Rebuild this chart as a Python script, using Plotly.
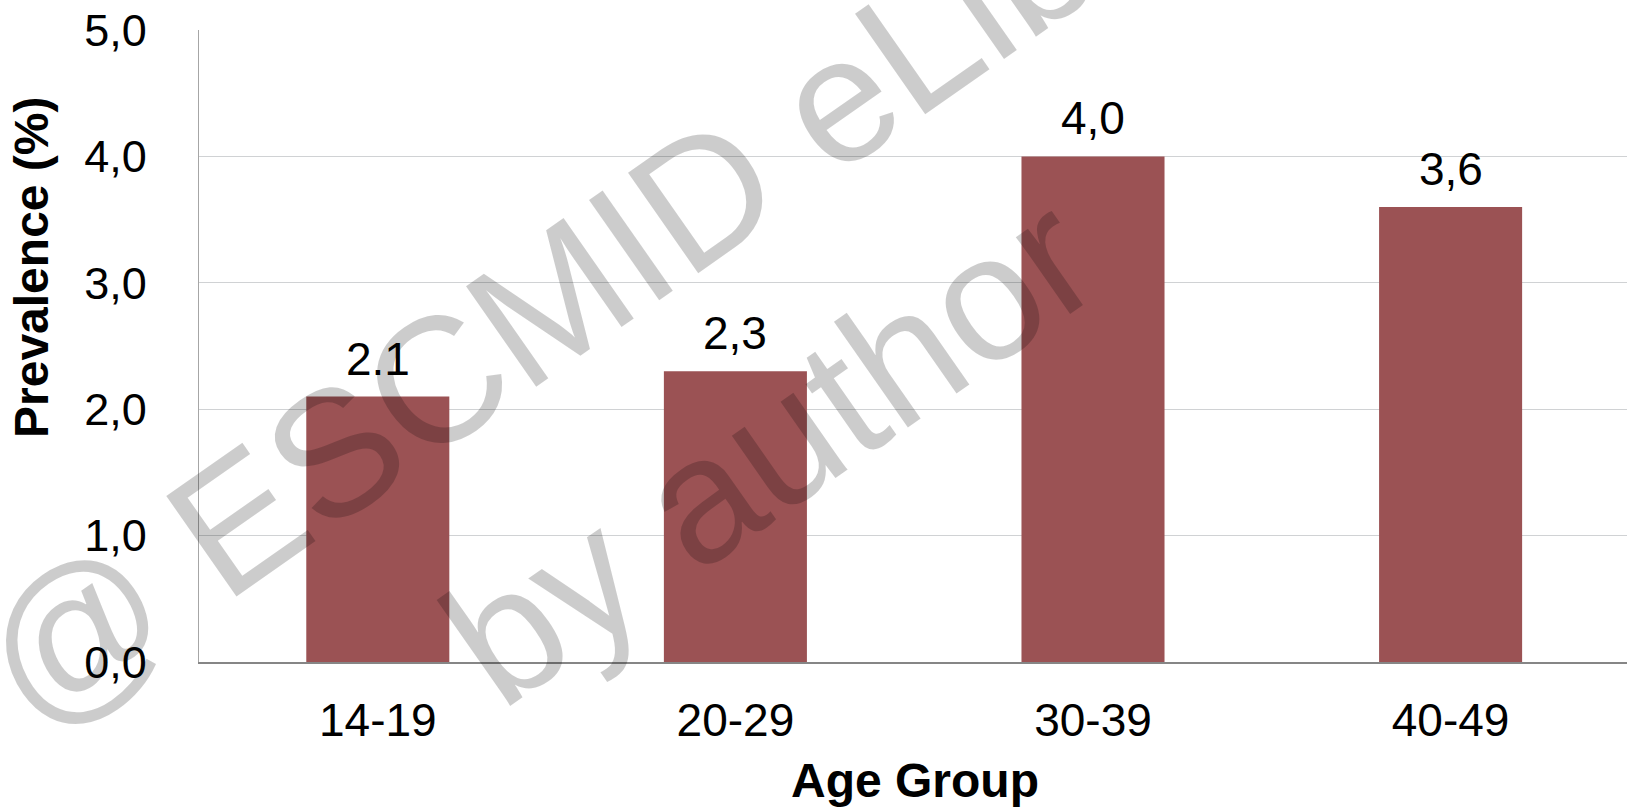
import plotly.graph_objects as go

# Prevalence by age group
age_groups = ["14-19", "20-29", "30-39", "40-49"]
prevalence = [2.1, 2.3, 4.0, 3.6]
value_labels = ["2.1", "2,3", "4,0", "3,6"]
y_ticks = [0, 1, 2, 3, 4, 5]
y_tick_text = ["0,0", "1,0", "2,0", "3,0", "4,0", "5,0"]

FONT = "Arial, Liberation Sans, sans-serif"
BAR_COLOR = "#9b5254"

W, H = 1627, 808
L, R, T, B = 199, 0, 30, 146
PW, PH = W - L - R, H - T - B


def px_to_paper(px, py):
    return (px - L) / PW, (H - B - py) / PH


fig = go.Figure(
    go.Bar(
        x=list(range(len(age_groups))),
        y=prevalence,
        width=0.4,
        marker=dict(color=BAR_COLOR, line=dict(width=0)),
        hoverinfo="skip",
    )
)

# value labels above the bars
for i, (v, lab) in enumerate(zip(prevalence, value_labels)):
    fig.add_annotation(
        x=i, y=v, text=lab, showarrow=False, xanchor="center", yanchor="bottom",
        yshift=10, font=dict(family=FONT, size=46, color="black"),
    )

# axis titles
tx, ty = px_to_paper(31, 267)
fig.add_annotation(
    x=tx, y=ty, xref="paper", yref="paper", text="<b>Prevalence (%)</b>",
    textangle=-90, showarrow=False, xanchor="center", yanchor="middle",
    font=dict(family=FONT, size=48, color="black"),
)
tx, ty = px_to_paper(915, 780)
fig.add_annotation(
    x=tx, y=ty, xref="paper", yref="paper", text="<b>Age Group</b>",
    showarrow=False, xanchor="center", yanchor="middle",
    font=dict(family=FONT, size=48, color="black"),
)

# diagonal watermark
for text, (cx, cy) in [("@ ESCMID eLibrary", (662, 224)), ("by author", (769, 449))]:
    ax, ay = px_to_paper(cx, cy)
    fig.add_annotation(
        x=ax, y=ay, xref="paper", yref="paper", text=text, textangle=-35,
        showarrow=False, xanchor="center", yanchor="middle",
        font=dict(family=FONT, size=178, color="rgba(0,0,0,0.2)"),
    )

cat_px = 357.6
fig.update_layout(
    width=W, height=H,
    margin=dict(l=L, r=R, t=T, b=B, pad=0),
    paper_bgcolor="white", plot_bgcolor="white",
    showlegend=False,
    font=dict(family=FONT, color="black"),
    xaxis=dict(
        range=[-0.5, -0.5 + PW / cat_px],
        tickmode="array", tickvals=list(range(len(age_groups))), ticktext=age_groups,
        tickfont=dict(size=46, color="black"), ticks="", ticklabelstandoff=17,
        showline=True, linecolor="#868686", linewidth=1.6,
        showgrid=False, zeroline=False, fixedrange=True,
    ),
    yaxis=dict(
        range=[0, 5],
        tickmode="array", tickvals=y_ticks, ticktext=y_tick_text,
        tickfont=dict(size=45, color="black"), ticks="", ticklabelstandoff=42,
        showline=True, linecolor="#a6a6a6", linewidth=1.2,
        showgrid=True, gridcolor="#d0d2d4", gridwidth=1.2,
        zeroline=False, fixedrange=True,
    ),
)

fig.write_html("out.html")
